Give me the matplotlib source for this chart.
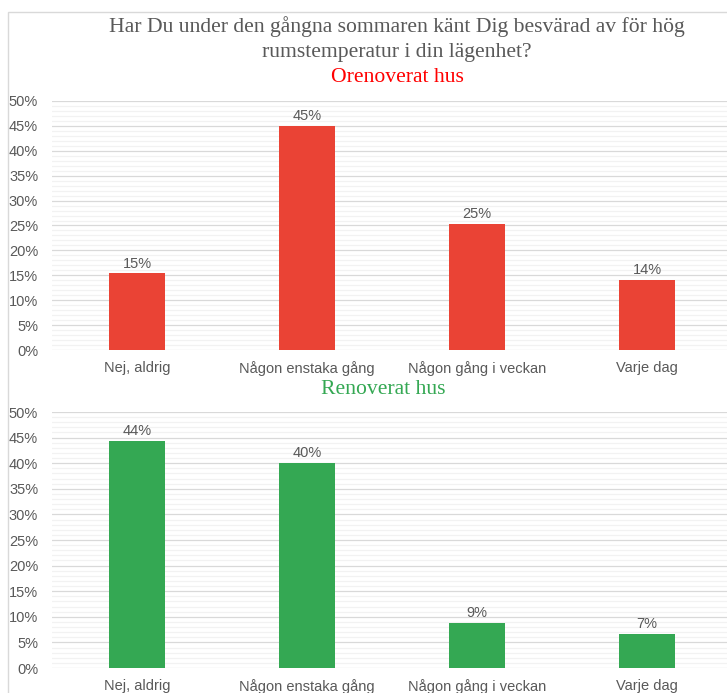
import matplotlib
matplotlib.use("Agg")
import matplotlib.pyplot as plt
from matplotlib.patches import Rectangle
from matplotlib.ticker import MultipleLocator, PercentFormatter

categories = ["Nej, aldrig", "Någon enstaka gång", "Någon gång i veckan", "Varje dag"]
orenoverat = [0.154, 0.45, 0.253, 0.141]
renoverat = [0.444, 0.40, 0.088, 0.066]

title_lines = ["Har Du under den gångna sommaren känt Dig besvärad av för hög",
               "rumstemperatur i din lägenhet?"]
sub_top = "Orenoverat hus"
sub_bottom = "Renoverat hus"

RED = "#EA4335"
GREEN = "#34A853"
GRAY = "#595959"

plt.rcParams["font.family"] = ["Liberation Sans", "DejaVu Sans"]

W, H = 727, 693
fig = plt.figure(figsize=(W / 100, H / 100), dpi=100)

# outer chart frame
fig.patches.append(Rectangle((8 / W, -0.1), 1.2, 1 - 12 / H + 0.1, transform=fig.transFigure,
                             fill=False, edgecolor="#d9d9d9", linewidth=1))


def panel(rect, values, color):
    ax = fig.add_axes(rect)
    x = range(len(categories))
    bars = ax.bar(x, values, width=0.335, color=color, zorder=3)
    ax.set_xlim(-0.5, len(categories) - 0.5)
    ax.set_ylim(0, 0.5)
    ax.yaxis.set_major_locator(MultipleLocator(0.05))
    ax.yaxis.set_minor_locator(MultipleLocator(0.01))
    ax.yaxis.set_major_formatter(PercentFormatter(1.0, decimals=0))
    ax.grid(axis="y", which="major", color="#d9d9d9", linewidth=0.9, zorder=0)
    ax.grid(axis="y", which="minor", color="#f2f2f2", linewidth=0.9, zorder=0)
    ax.set_xticks(list(x))
    ax.set_xticklabels(categories)
    ax.tick_params(axis="both", which="both", length=0, colors=GRAY, labelsize=10.5)
    ax.tick_params(axis="y", pad=10)
    ax.tick_params(axis="x", pad=8)
    for s in ax.spines.values():
        s.set_visible(False)
    for b, v in zip(bars, values):
        ax.annotate(f"{v:.0%}", (b.get_x() + b.get_width() / 2, v), xytext=(0, 2),
                    textcoords="offset points", ha="center", va="bottom",
                    fontsize=10.5, color=GRAY)
    return ax


left = 52 / W
width = 680 / W
panel([left, (H - 350) / H, width, 249 / H], orenoverat, RED)
panel([left, (H - 668) / H, width, 256 / H], renoverat, GREEN)

serif = ["Liberation Serif", "DejaVu Serif"]
for line, ypx in zip(title_lines, [27, 52]):
    fig.text(397 / W, 1 - ypx / H, line, ha="center", va="center", fontsize=15.6,
             color=GRAY, family=serif)
fig.text(397 / W, 1 - 78 / H, sub_top, ha="center", va="center", fontsize=15.6,
         color="#FF0000", family=serif)
fig.text(383 / W, 1 - 389 / H, sub_bottom, ha="center", va="center", fontsize=15.6,
         color=GREEN, family=serif)

fig.savefig("out.png", dpi=100)
